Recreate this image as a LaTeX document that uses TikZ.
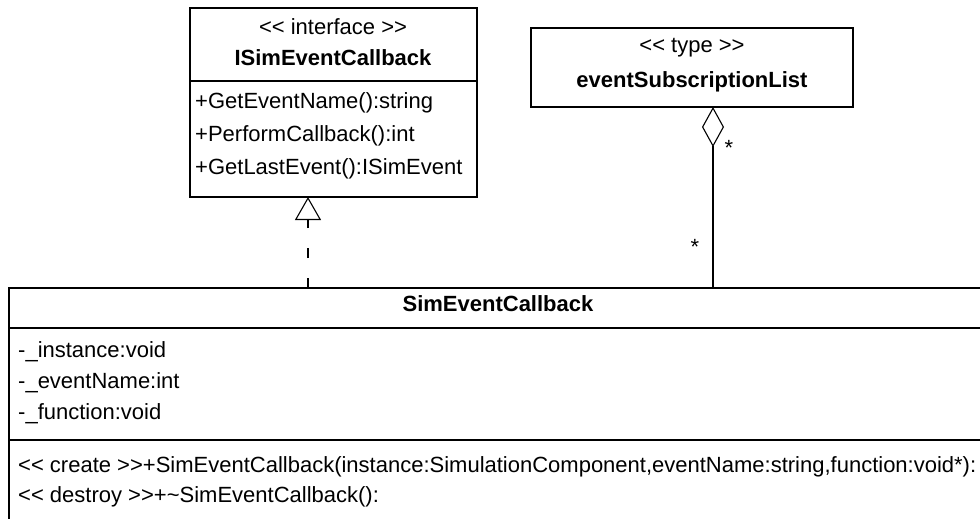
\documentclass[tikz,border=0pt]{standalone}
\usepackage{fontspec}
\setmainfont{Liberation Sans}[Ligatures=TeXOff]
\usetikzlibrary{arrows.meta}
\begin{document}
\begin{tikzpicture}[x=1pt,y=-1pt,
  box/.style={draw, line width=1.3pt, inner sep=0pt, outer sep=0pt},
  rule/.style={line width=1.3pt},
  txt/.style={inner sep=0pt, font=\fontsize{22}{26}\selectfont},
  lbl/.style={txt, anchor=mid west},
  ttl/.style={txt, anchor=mid},
  bld/.style={txt, anchor=mid, font=\fontsize{22}{26}\selectfont\bfseries},
  star/.style={txt, anchor=center},
  realize/.style={line width=1.3pt, dash pattern=on 10pt off 20pt,
    -{Triangle[open, length=23pt, width=26pt, line width=1.1pt]}},
  aggr/.style={line width=1.3pt,
    -{Diamond[open, length=40pt, width=22pt, line width=1.1pt]}},
]
\useasboundingbox[fill=white] (0,0) rectangle (980,519);

% interface ISimEventCallback
\node[box, minimum width=287pt, minimum height=189pt] (isim) at (333.5,102.5) {};
\draw[rule] (190,81) -- (477,81);
\node[ttl] (isimst) at (333,32) {<< interface >>};
\node[bld] (isimnm) at (333,63) {ISimEventCallback};
\node[lbl] (im1) at (195,106) {+GetEventName():string};
\node[lbl] (im2) at (195,139) {+PerformCallback():int};
\node[lbl] (im3) at (195,172) {+GetLastEvent():ISimEvent};

% type eventSubscriptionList
\node[box, minimum width=322pt, minimum height=79pt] (list) at (692,67.5) {};
\node[ttl] (listst) at (692,50) {<< type >>};
\node[bld] (listnm) at (692,85) {eventSubscriptionList};

% class SimEventCallback
\node[box, minimum width=978pt, minimum height=252pt] (sim) at (498,414) {};
\node[bld] (simnm) at (498,309) {SimEventCallback};
\draw[rule] (9,328) -- (987,328);
\node[lbl] (sa1) at (18,355) {-\_instance:void};
\node[lbl] (sa2) at (18,386) {-\_eventName:int};
\node[lbl] (sa3) at (18,417) {-\_function:void};
\draw[rule] (9,440) -- (987,440);
\node[lbl] (so1) at (18,470) {<< create >>+SimEventCallback(instance:SimulationComponent,eventName:string,function:void*):};
\node[lbl] (so2) at (18,500) {<< destroy >>+\textasciitilde SimEventCallback():};

% connectors
\coordinate (rb) at (308,288);
\draw[realize] (rb) -- (rb |- isim.south);
\coordinate (ab) at (713,288);
\draw[aggr] (ab) -- (ab |- list.south);
\node[star] (mtop) at (729,148) {*};
\node[star] (mbot) at (695,247) {*};
\end{tikzpicture}
\end{document}
